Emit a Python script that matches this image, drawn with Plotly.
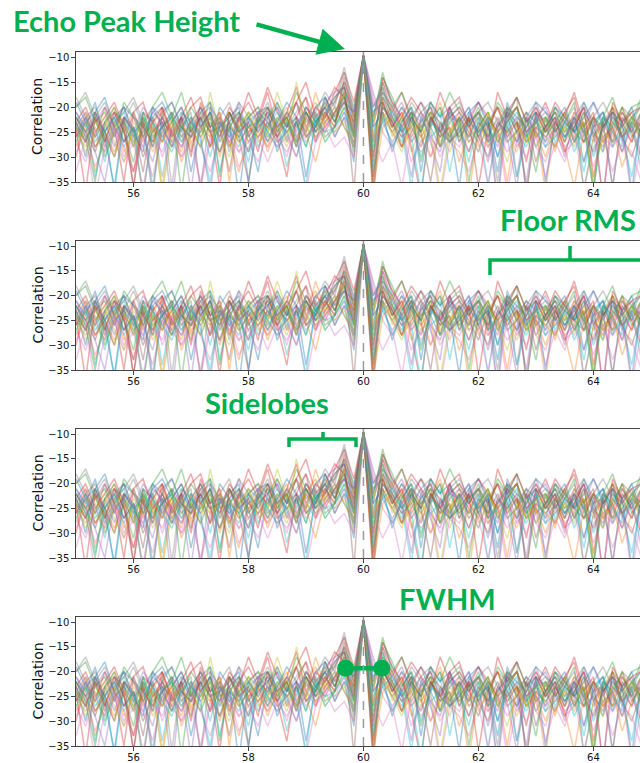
import plotly.graph_objects as go

# Lag axis: six samples per unit, starting at 55
LAG_START = 55.0
LAG_STEP = 1.0 / 6.0
N_SAMPLES = 60

# Cross-correlation traces (dB), one list per echo
traces_db = [
    [-21,-24,-19,-27,-22,-20,-25,-23,-38,-21, -19,-24,-26,-22,-28,-20,-23,-21,-25,-33, -22,-20,-24,-19,-26,-23,-21,-18,-16,-24,
     -9.7,-27,-17,-20,-25,-22,-19,-24,-28,-21, -23,-20,-26,-22,-39,-19,-24,-21,-23,-27, -20,-22,-25,-19,-24,-29,-21,-23,-20,-26],
    [-23,-27,-22,-25,-29,-24,-21,-26,-23,-36, -24,-22,-27,-25,-21,-30,-24,-26,-22,-25, -28,-23,-20,-26,-22,-19,-24,-21,-17,-30,
     -9.7,-33,-19,-24,-21,-26,-23,-20,-28,-25, -22,-38,-24,-21,-26,-23,-20,-27,-24,-22, -29,-21,-25,-23,-37,-22,-26,-20,-24,-23],
    [-20,-18,-23,-21,-26,-19,-22,-24,-20,-17, -22,-25,-20,-23,-19,-34,-21,-24,-22,-20, -25,-19,-23,-17,-21,-24,-18,-22,-15,-20,
     -9.7,-22,-14,-18,-23,-20,-25,-19,-22,-17, -21,-24,-20,-26,-19,-22,-18,-23,-21,-25, -20,-23,-19,-37,-26,-22,-18,-24,-20,-19],
    [-30,-22,-26,-20,-24,-35,-21,-19,-25,-22, -27,-23,-20,-18,-24,-21,-28,-22,-19,-23, -17,-25,-21,-16,-24,-20,-22,-17,-13,-19,
     -9.7,-24,-15,-21,-17,-23,-19,-22,-26,-20, -18,-24,-21,-27,-17,-22,-20,-25,-23,-19, -24,-21,-18,-26,-22,-25,-20,-23,-27,-21],
    [-24,-21,-26,-23,-28,-22,-25,-20,-23,-27, -21,-24,-37,-22,-20,-25,-23,-19,-26,-22, -24,-20,-27,-23,-21,-25,-18,-22,-19,-23,
     -9.7,-20,-16,-22,-19,-24,-21,-27,-33,-20, -25,-22,-19,-24,-28,-21,-23,-26,-20,-24, -22,-27,-21,-24,-19,-23,-36,-22,-25,-21],
    [-22,-25,-29,-23,-21,-27,-24,-33,-22,-26, -23,-20,-25,-22,-28,-24,-21,-26,-35,-23, -21,-24,-22,-27,-20,-23,-25,-21,-18,-26,
     -9.7,-34,-21,-25,-22,-27,-24,-21,-23,-26, -22,-25,-29,-23,-20,-24,-27,-22,-31,-24, -21,-26,-23,-20,-25,-28,-22,-24,-21,-27],
    [-27,-31,-25,-29,-24,-28,-33,-26,-23,-30, -25,-28,-24,-36,-27,-23,-26,-29,-25,-24, -28,-25,-30,-23,-27,-24,-21,-26,-22,-25,
     -9.7,-19,-22,-25,-28,-23,-26,-30,-24,-27, -25,-29,-23,-26,-38,-24,-28,-25,-22,-27, -24,-28,-26,-31,-23,-27,-25,-29,-24,-26],
    [-18,-22,-20,-25,-21,-23,-19,-24,-22,-20, -36,-21,-23,-20,-24,-22,-19,-25,-21,-23, -20,-24,-22,-19,-23,-21,-17,-20,-13,-22,
     -9.7,-26,-18,-21,-24,-19,-22,-20,-25,-21, -19,-23,-21,-24,-20,-22,-18,-38,-21,-23, -20,-24,-22,-19,-23,-21,-25,-20,-22,-24],
    [-25,-28,-23,-26,-30,-24,-27,-22,-29,-25, -23,-27,-24,-20,-26,-23,-28,-24,-21,-26, -24,-17,-23,-27,-22,-25,-21,-24,-20,-23,
     -9.7,-23,-18,-26,-22,-29,-24,-21,-27,-23, -26,-22,-28,-24,-20,-25,-23,-27,-22,-25, -23,-27,-24,-21,-26,-29,-23,-25,-22,-28],
    [-22,-26,-24,-31,-23,-21,-27,-25,-22,-34, -24,-21,-26,-23,-30,-22,-25,-28,-23,-21, -26,-23,-32,-24,-21,-25,-23,-20,-24,-27,
     -9.7,-25,-20,-23,-27,-22,-30,-24,-21,-33, -23,-26,-22,-36,-24,-21,-25,-28,-23,-22, -27,-23,-25,-21,-30,-24,-22,-26,-34,-23],
    [-19,-23,-21,-18,-24,-20,-22,-26,-21,-19, -23,-20,-25,-21,-19,-24,-22,-20,-35,-21, -20,-23,-19,-22,-25,-20,-18,-23,-19,-21,
     -9.7,-21,-19,-24,-20,-23,-25,-19,-22,-20, -24,-21,-19,-23,-33,-20,-22,-24,-19,-21, -23,-20,-25,-22,-19,-24,-21,-27,-22,-20],
    [-26,-21,-28,-24,-20,-25,-22,-27,-23,-21, -25,-29,-22,-24,-26,-21,-35,-23,-25,-22, -24,-26,-22,-19,-25,-17,-23,-21,-19,-24,
     -9.7,-27,-22,-20,-24,-21,-26,-23,-19,-25, -21,-24,-27,-22,-25,-23,-20,-26,-24,-37, -22,-25,-21,-24,-27,-23,-20,-26,-22,-25],
    [-24,-27,-22,-30,-25,-23,-28,-21,-26,-24, -22,-17,-24,-28,-23,-26,-21,-25,-29,-23, -27,-22,-25,-23,-28,-21,-26,-24,-16,-22,
     -9.7,-23,-13,-20,-17,-22,-25,-21,-28,-22, -26,-23,-21,-27,-24,-20,-25,-22,-28,-24, -21,-25,-23,-27,-22,-24,-20,-26,-23,-18],
    [-23,-20,-25,-22,-19,-24,-36,-21,-23,-20, -25,-22,-18,-24,-21,-26,-20,-23,-17,-22, -16,-21,-24,-19,-15,-22,-20,-16,-18,-25,
     -9.7,-31,-14,-19,-22,-18,-21,-24,-17,-22, -20,-23,-19,-22,-25,-21,-18,-23,-20,-24, -19,-22,-17,-24,-21,-39,-19,-23,-21,-20],
    [-21,-25,-23,-20,-26,-22,-24,-28,-21,-23, -40,-22,-25,-20,-24,-23,-26,-22,-24,-21, -23,-26,-21,-24,-20,-22,-19,-17,-16,-21,
     -9.7,-22,-15,-19,-24,-21,-23,-20,-25,-22, -23,-20,-26,-22,-24,-21,-25,-35,-22,-20, -25,-22,-24,-20,-26,-23,-21,-24,-27,-22],
    [-26,-23,-28,-25,-22,-27,-24,-30,-25,-23, -28,-24,-26,-22,-25,-29,-23,-27,-24,-26, -23,-27,-25,-22,-26,-24,-20,-23,-17,-28,
     -9.7,-30,-20,-23,-26,-24,-28,-22,-25,-27, -24,-29,-23,-26,-22,-27,-25,-21,-26,-24, -28,-23,-25,-27,-22,-26,-24,-29,-23,-25],
    [-29,-25,-32,-27,-24,-30,-26,-28,-34,-25, -27,-30,-25,-28,-33,-26,-24,-29,-27,-31, -25,-28,-26,-30,-24,-27,-23,-25,-21,-28,
     -9.7,-18,-25,-28,-24,-31,-27,-25,-30,-26, -28,-24,-27,-35,-25,-29,-26,-24,-28,-31, -25,-29,-27,-24,-32,-26,-28,-25,-38,-27],
    [-20,-17,-22,-19,-24,-21,-18,-23,-20,-22, -19,-24,-21,-37,-20,-23,-25,-19,-22,-20, -22,-19,-24,-21,-18,-23,-20,-19,-12,-21,
     -9.7,-20,-17,-23,-20,-25,-21,-19,-24,-22, -20,-24,-21,-19,-23,-20,-34,-22,-19,-24, -21,-23,-20,-25,-22,-19,-23,-21,-24,-19],
    [-27,-23,-26,-29,-24,-22,-28,-25,-23,-27, -22,-26,-24,-28,-17,-25,-23,-27,-24,-22, -26,-24,-28,-23,-25,-22,-27,-24,-20,-25,
     -9.7,-36,-21,-24,-28,-23,-26,-22,-25,-29, -23,-26,-24,-21,-27,-25,-29,-23,-26,-22, -26,-24,-28,-22,-25,-27,-23,-26,-24,-21],
    [-25,-22,-27,-24,-37,-23,-26,-21,-28,-24, -22,-27,-23,-25,-21,-33,-24,-26,-22,-28, -24,-21,-26,-23,-28,-22,-25,-24,-21,-26,
     -9.7,-28,-23,-21,-25,-36,-22,-26,-24,-21, -27,-23,-25,-22,-30,-24,-21,-26,-23,-25, -22,-26,-24,-33,-23,-21,-27,-25,-22,-26],
    [-23,-30,-21,-26,-36,-22,-25,-29,-20,-24, -28,-22,-33,-24,-21,-27,-23,-38,-22,-25, -21,-29,-24,-22,-34,-23,-20,-26,-22,-31,
     -9.7,-24,-21,-29,-23,-20,-33,-22,-26,-24, -36,-21,-25,-23,-30,-22,-27,-24,-21,-35, -23,-26,-22,-31,-24,-21,-28,-23,-37,-22],
    [-28,-24,-33,-26,-23,-29,-25,-38,-24,-27, -23,-31,-26,-24,-28,-22,-27,-33,-25,-23, -29,-24,-22,-27,-25,-31,-23,-20,-24,-28,
     -9.7,-37,-24,-22,-28,-25,-23,-30,-26,-24, -31,-25,-22,-28,-24,-35,-23,-27,-25,-30, -24,-28,-36,-25,-22,-27,-24,-32,-26,-23],
    [-22,-26,-35,-23,-20,-25,-31,-22,-27,-24, -21,-37,-23,-26,-22,-29,-24,-21,-26,-23, -20,-25,-22,-28,-21,-24,-19,-23,-18,-26,
     -9.7,-29,-16,-22,-25,-21,-31,-23,-20,-26, -22,-35,-24,-21,-27,-23,-20,-25,-33,-22, -25,-21,-27,-23,-36,-22,-24,-20,-26,-23],
    [-24,-37,-22,-27,-21,-25,-33,-23,-28,-20, -26,-22,-30,-19,-24,-36,-21,-25,-23,-29, -20,-26,-34,-22,-18,-27,-21,-24,-14,-23,
     -9.7,-35,-19,-24,-21,-28,-38,-22,-25,-20, -27,-22,-36,-24,-20,-26,-23,-31,-21,-25, -22,-29,-24,-20,-34,-23,-27,-21,-25,-30],
    [-26,-22,-29,-35,-24,-27,-21,-26,-31,-23, -25,-28,-22,-26,-37,-23,-27,-24,-29,-22, -27,-23,-25,-30,-22,-26,-24,-21,-19,-25,
     -9.7,-17,-23,-27,-24,-34,-22,-26,-29,-23, -21,-27,-24,-31,-23,-26,-36,-22,-25,-28, -24,-30,-22,-27,-25,-38,-23,-26,-24,-29],
    [-23,-27,-21,-25,-30,-22,-36,-24,-27,-22, -26,-23,-29,-21,-25,-24,-33,-22,-27,-24, -22,-26,-23,-28,-21,-25,-22,-19,-15,-37,
     -9.7,-38,-18,-23,-28,-22,-25,-35,-23,-27, -25,-22,-26,-30,-23,-25,-22,-37,-24,-26, -23,-27,-22,-25,-29,-24,-21,-26,-30,-24],
    [-33,-26,-38,-28,-25,-31,-27,-36,-26,-29, -24,-30,-27,-35,-26,-29,-25,-32,-28,-26, -31,-26,-29,-25,-37,-27,-24,-28,-26,-30,
     -9.7,-26,-31,-27,-36,-25,-29,-26,-38,-27, -29,-33,-26,-28,-25,-37,-27,-30,-26,-34, -27,-31,-25,-36,-28,-26,-33,-27,-29,-35],
    [-22,-25,-21,-28,-23,-20,-26,-22,-36,-24, -21,-26,-23,-20,-25,-22,-29,-21,-24,-23, -19,-24,-21,-25,-20,-23,-22,-18,-16,-24,
     -9.7,-32,-20,-22,-26,-21,-24,-23,-20,-27, -22,-26,-21,-24,-35,-22,-20,-25,-23,-21, -25,-22,-27,-21,-24,-23,-36,-22,-25,-21],
    [-24,-29,-25,-22,-27,-31,-23,-26,-24,-37, -26,-23,-28,-25,-22,-26,-30,-24,-21,-27, -25,-22,-27,-15,-24,-26,-22,-25,-23,-27,
     -9.7,-26,-22,-25,-29,-23,-27,-24,-37,-25, -23,-27,-25,-22,-26,-31,-24,-27,-23,-26, -28,-24,-26,-23,-35,-25,-27,-24,-22,-26],
    [-27,-23,-34,-25,-22,-28,-24,-38,-23,-26, -29,-24,-22,-27,-35,-23,-26,-24,-31,-22, -25,-28,-23,-26,-36,-22,-27,-24,-20,-29,
     -9.7,-33,-22,-28,-24,-26,-37,-23,-25,-27, -24,-31,-22,-27,-25,-23,-34,-26,-22,-28, -26,-23,-29,-24,-37,-22,-25,-28,-23,-33],
]

# Expected echo position and FWHM marker
ECHO_LAG = 60
FWHM_SPAN = [59.69, 60.32]
FWHM_LEVEL = -19.3

X_TICKS = [56, 58, 60, 62, 64]
Y_TICKS = [-10, -15, -20, -25, -30, -35]
X_RANGE = [55, 64.81]
Y_RANGE = [-35, -8.95]

PALETTE = ["#1f77b4", "#ff7f0e", "#2ca02c", "#d62728", "#9467bd",
           "#8c564b", "#e377c2", "#7f7f7f", "#bcbd22", "#17becf"]
GREEN = "#00B050"

W, H = 640, 763
lags = [LAG_START + i * LAG_STEP for i in range(N_SAMPLES)]


def px(x):
    return x / W


def py(y):
    return 1 - y / H


# panel tops / bottoms in pixels
panels = [(52, 182), (241, 370), (429, 558), (617, 746)]

fig = go.Figure()
shapes = []
annotations = []

for p, (top, bot) in enumerate(panels):
    n = p + 1
    xa = "x" if n == 1 else f"x{n}"
    ya = "y" if n == 1 else f"y{n}"
    for j, series in enumerate(traces_db):
        fig.add_trace(go.Scatter(
            x=lags, y=series, mode="lines",
            line=dict(color=PALETTE[j % 10], width=1.5),
            opacity=0.38, xaxis=xa, yaxis=ya,
            showlegend=False, hoverinfo="skip"))
    axis_common = dict(showgrid=False, zeroline=False, showline=True,
                       linecolor="#444", linewidth=1.3, ticks="outside",
                       ticklen=3.5, tickwidth=1, tickcolor="#444",
                       tickfont=dict(family="DejaVu Sans", size=10, color="#111"),
                       automargin=False)
    fig.layout[f"xaxis{'' if n == 1 else n}"] = dict(
        axis_common, domain=[px(76), 1], range=X_RANGE, tickvals=X_TICKS,
        mirror=True, anchor=ya, ticklabelstandoff=-2)
    fig.layout[f"yaxis{'' if n == 1 else n}"] = dict(
        axis_common, domain=[py(bot), py(top)], range=Y_RANGE,
        tickvals=Y_TICKS, anchor=xa)
    # echo reference line
    shapes.append(dict(type="line", xref=xa, yref=ya, x0=ECHO_LAG, x1=ECHO_LAG,
                       y0=Y_RANGE[0], y1=Y_RANGE[1],
                       line=dict(color="#9a9a9a", width=1.5, dash="dash")))
    annotations.append(dict(text="Correlation", textangle=-90, xref="paper",
                            yref="paper", x=px(37), y=py((top + bot) / 2),
                            xanchor="center", yanchor="middle", showarrow=False,
                            font=dict(family="DejaVu Sans", size=14, color="#111")))

label_font = dict(family="Lato", size=29, color=GREEN, weight="bold")


def label(text, cx, cy):
    return dict(text=f"<b>{text}</b>", xref="paper", yref="paper",
                x=px(cx), y=py(cy), xanchor="center", yanchor="middle",
                showarrow=False, font=label_font)


# Echo peak height label and arrow
annotations.append(label("Echo Peak Height", 126.5, 20))
annotations.append(dict(text="", xref="paper", yref="paper", axref="pixel",
                        ayref="pixel", x=px(345), y=py(49), ax=-90, ay=-25,
                        showarrow=True, arrowhead=2, arrowsize=1.2, arrowwidth=4.5,
                        arrowcolor=GREEN))

# Floor RMS label and bracket
annotations.append(label("Floor RMS", 568, 219))
shapes.append(dict(type="path", xref="paper", yref="paper",
                   path=f"M {px(490)},{py(275)} L {px(490)},{py(260)} L {px(655)},{py(260)} "
                        f"M {px(570)},{py(260)} L {px(570)},{py(246)}",
                   line=dict(color=GREEN, width=3.5)))

# Sidelobes label and bracket
annotations.append(label("Sidelobes", 266.5, 403))
shapes.append(dict(type="path", xref="paper", yref="paper",
                   path=f"M {px(289)},{py(447)} L {px(289)},{py(439)} L {px(356)},{py(439)} "
                        f"L {px(356)},{py(447)} M {px(323)},{py(439)} L {px(323)},{py(432)}",
                   line=dict(color=GREEN, width=3.5)))

# FWHM label and dumbbell
annotations.append(label("FWHM", 447, 598))
fig.add_trace(go.Scatter(x=FWHM_SPAN, y=[FWHM_LEVEL, FWHM_LEVEL], mode="lines+markers",
                         line=dict(color=GREEN, width=4.5),
                         marker=dict(color=GREEN, size=17),
                         xaxis="x4", yaxis="y4", showlegend=False, hoverinfo="skip",
                         cliponaxis=False))

fig.update_layout(width=W, height=H, margin=dict(l=0, r=0, t=0, b=0),
                  paper_bgcolor="white", plot_bgcolor="white",
                  shapes=shapes, annotations=annotations, showlegend=False)

fig.write_html("out.html")
